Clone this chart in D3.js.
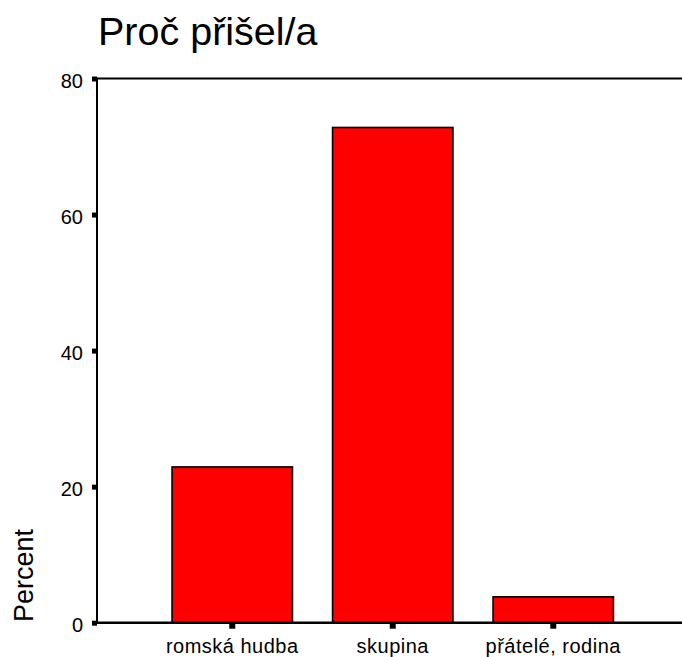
<!DOCTYPE html>
<html><head><meta charset="utf-8">
<script src="https://cdn.jsdelivr.net/npm/d3@7"></script>
<style>
body{margin:0;background:#fff;}
svg{display:block;font-family:"Liberation Sans",Arial,sans-serif;}
</style></head>
<body>
<script>
const categories = ["romská hudba", "skupina", "přátelé, rodina"];
const percentValues = [22.9, 72.8, 3.8];
const yTickValues = [0, 20, 40, 60, 80];
const titleText = "Proč přišel/a";
const yLabelText = "Percent";

const W = 682, H = 657;
const plotLeft = 97, plotRight = 682, plotTop = 78.5, plotBottom = 622.7;

const svg = d3.select("body").append("svg").attr("width", W).attr("height", H);

const x = d3.scaleBand().domain(categories).range([152, 633.5]).paddingInner(0.25).paddingOuter(0.125);
const y = d3.scaleLinear().domain([0, 80]).range([plotBottom, plotTop]);

// bars
svg.append("g").selectAll("rect").data(categories).join("rect")
  .attr("x", d => x(d))
  .attr("width", x.bandwidth())
  .attr("y", (d, i) => y(percentValues[i]))
  .attr("height", (d, i) => y(0) - y(percentValues[i]))
  .attr("fill", "#ff0000")
  .attr("stroke", "#000")
  .attr("stroke-width", 1.6);

// frame lines
svg.append("line").attr("x1", plotLeft).attr("x2", plotRight).attr("y1", plotTop).attr("y2", plotTop)
  .attr("stroke", "#000").attr("stroke-width", 2);
svg.append("line").attr("x1", plotLeft).attr("x2", plotRight).attr("y1", plotBottom).attr("y2", plotBottom)
  .attr("stroke", "#000").attr("stroke-width", 2.5);
svg.append("line").attr("x1", plotLeft).attr("x2", plotLeft).attr("y1", plotTop - 1).attr("y2", plotBottom + 1)
  .attr("stroke", "#000").attr("stroke-width", 2);

// y axis
const yAxis = svg.append("g").attr("transform", `translate(${plotLeft},0)`)
  .call(d3.axisLeft(y).tickValues(yTickValues).tickSize(5).tickPadding(9).tickSizeOuter(0));
yAxis.select(".domain").remove();
yAxis.selectAll(".tick line").attr("stroke", "#000").attr("stroke-width", 5);
yAxis.selectAll(".tick text").attr("font-size", 20).attr("fill", "#000")
  .attr("font-family", "Liberation Sans, Arial, sans-serif").attr("dy", "0.45em");

// x axis
const xAxis = svg.append("g").attr("transform", `translate(0,${plotBottom})`)
  .call(d3.axisBottom(x).tickSize(6).tickPadding(10).tickSizeOuter(0));
xAxis.select(".domain").remove();
xAxis.selectAll(".tick line").attr("stroke", "#000").attr("stroke-width", 6);
xAxis.selectAll(".tick text").attr("font-size", 20).attr("fill", "#000")
  .attr("font-family", "Liberation Sans, Arial, sans-serif").attr("letter-spacing", "0.5px");

// title
svg.append("text").attr("x", 98).attr("y", 44.5).attr("font-size", 39.5).attr("fill", "#000").text(titleText);

// y label
svg.append("text").attr("transform", "translate(33,622) rotate(-90)")
  .attr("font-size", 27).attr("fill", "#000").attr("text-anchor", "start").text(yLabelText);
</script>
</body></html>
